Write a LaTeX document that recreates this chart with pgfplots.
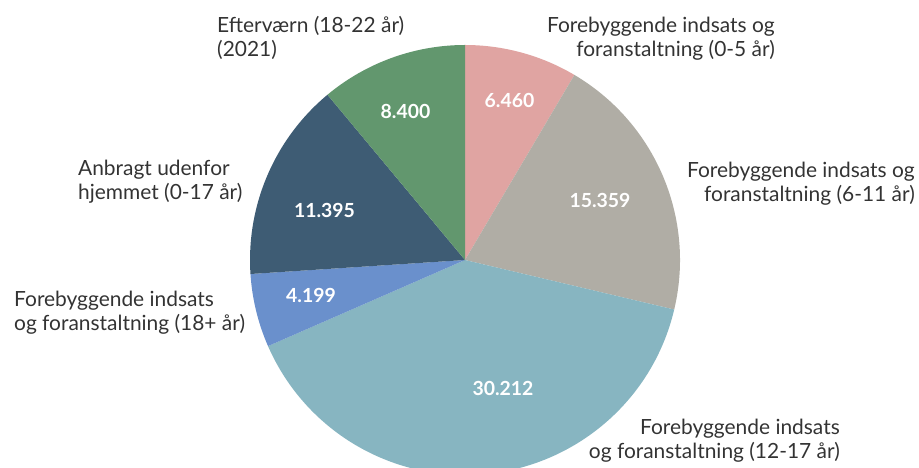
\documentclass[border=0pt]{standalone}
\usepackage{pgfplots}
\pgfplotsset{compat=1.18}
\usepackage{fontspec}
\setmainfont{Lato}
\definecolor{cPink}{HTML}{E0A4A2}
\definecolor{cGrey}{HTML}{B0ADA5}
\definecolor{cTeal}{HTML}{87B5C1}
\definecolor{cBlue}{HTML}{6A90CC}
\definecolor{cDark}{HTML}{3E5C74}
\definecolor{cGreen}{HTML}{62976E}
\definecolor{cText}{HTML}{333333}
% values in thousands
\def\vA{6.460}\def\vB{15.359}\def\vC{30.212}\def\vD{4.199}\def\vE{11.395}\def\vF{8.400}
\pgfmathsetmacro\tot{\vA+\vB+\vC+\vD+\vE+\vF}
\pgfmathsetmacro\aA{90-360*\vA/\tot}
\pgfmathsetmacro\aB{\aA-360*\vB/\tot}
\pgfmathsetmacro\aC{\aB-360*\vC/\tot}
\pgfmathsetmacro\aD{\aC-360*\vD/\tot}
\pgfmathsetmacro\aE{\aD-360*\vE/\tot}
\newcommand\lbl{\fontsize{21}{24}\selectfont\color{cText}}
\newcommand\num{\fontsize{19.5}{22}\selectfont\bfseries\color{white}}
\begin{document}
\begin{tikzpicture}
\begin{axis}[scale only axis, width=919bp, height=468bp,
  xmin=0, xmax=919, ymin=0, ymax=468, hide axis, clip=true]
\def\R{215bp}
\fill[cPink] (axis cs:465,208) -- ++(90:\R) arc[start angle=90, end angle=\aA, radius=\R] -- cycle;
\fill[cGrey] (axis cs:465,208) -- ++(\aA:\R) arc[start angle=\aA, end angle=\aB, radius=\R] -- cycle;
\fill[cTeal] (axis cs:465,208) -- ++(\aB:\R) arc[start angle=\aB, end angle=\aC, radius=\R] -- cycle;
\fill[cBlue] (axis cs:465,208) -- ++(\aC:\R) arc[start angle=\aC, end angle=\aD, radius=\R] -- cycle;
\fill[cDark] (axis cs:465,208) -- ++(\aD:\R) arc[start angle=\aD, end angle=\aE, radius=\R] -- cycle;
\fill[cGreen] (axis cs:465,208) -- ++(\aE:\R) arc[start angle=\aE, end angle=-270, radius=\R] -- cycle;
\node[font=\num] at (axis cs:509.5,368) {6.460};
\node[font=\num] at (axis cs:600,268) {15.359};
\node[font=\num] at (axis cs:503,79.5) {30.212};
\node[font=\num] at (axis cs:311,172.5) {4.199};
\node[font=\num] at (axis cs:324.5,258) {11.395};
\node[font=\num] at (axis cs:405.5,356.5) {8.400};
% outer labels (baselines)
\node[font=\lbl, anchor=base west, inner sep=0pt] at (axis cs:217,435) {Efterværn (18-22 år)};
\node[font=\lbl, anchor=base west, inner sep=0pt] at (axis cs:217,411) {(2021)};
\node[font=\lbl, anchor=base east, inner sep=0pt] at (axis cs:775,435) {Forebyggende indsats og};
\node[font=\lbl, anchor=base east, inner sep=0pt] at (axis cs:775,411) {foranstaltning (0-5 år)};
\node[font=\lbl, anchor=base east, inner sep=0pt] at (axis cs:915,290) {Forebyggende indsats og};
\node[font=\lbl, anchor=base east, inner sep=0pt] at (axis cs:915,266) {foranstaltning (6-11 år)};
\node[font=\lbl, anchor=base west, inner sep=0pt] at (axis cs:78,292) {Anbragt udenfor};
\node[font=\lbl, anchor=base west, inner sep=0pt] at (axis cs:78,268) {hjemmet (0-17 år)};
\node[font=\lbl, anchor=base west, inner sep=0pt] at (axis cs:14,161) {Forebyggende indsats};
\node[font=\lbl, anchor=base west, inner sep=0pt] at (axis cs:14,137) {og foranstaltning (18+ år)};
\node[font=\lbl, anchor=base east, inner sep=0pt] at (axis cs:840,33) {Forebyggende indsats};
\node[font=\lbl, anchor=base east, inner sep=0pt] at (axis cs:840,10) {og foranstaltning (12-17 år)};
\end{axis}
\pgfresetboundingbox
\path (current axis.south west) rectangle (current axis.north east);
\end{tikzpicture}
\end{document}
